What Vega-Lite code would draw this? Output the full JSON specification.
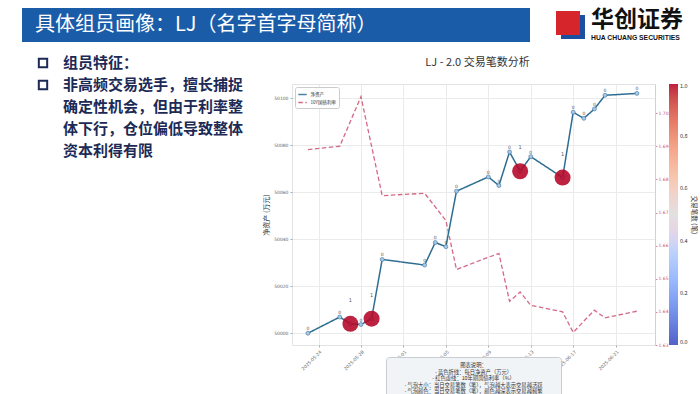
{
  "$schema": "https://vega.github.io/schema/vega-lite/v6.json",
  "background": "white",
  "padding": {"left": 22, "top": 8, "right": 0, "bottom": 0},
  "bounds": "flush",
  "spacing": 76,
  "config": {"font": "Noto Sans CJK SC", "view": {"stroke": null}},
  "resolve": {"legend": {"color": "independent", "strokeDash": "independent", "fill": "independent", "size": "independent"}},
  "vconcat": [
    {
      "bounds": "flush",
      "spacing": 25,
      "hconcat": [
        {
          "width": 508, "height": 34,
          "view": {"fill": "#1b5ca9", "stroke": null},
          "data": {"values": [{"t": "具体组员画像：LJ（名字首字母简称）"}]},
          "mark": {"type": "text", "align": "left", "baseline": "middle", "fontSize": 20, "color": "white", "font": "Noto Sans CJK SC"},
          "encoding": {
            "text": {"field": "t"},
            "x": {"datum": 13, "type": "quantitative", "scale": {"domain": [0, 508]}, "axis": null},
            "y": {"datum": 17, "type": "quantitative", "scale": {"domain": [0, 34]}, "axis": null}
          }
        },
        {
          "width": 135, "height": 34,
          "layer": [
            {
              "data": {"values": [{"part": "blue"}]},
              "mark": {"type": "point", "shape": "square", "filled": true, "color": "#1d4fa0", "size": 576, "opacity": 1},
              "encoding": {
                "x": {"datum": 18, "type": "quantitative", "scale": {"domain": [0, 135]}, "axis": null},
                "y": {"datum": 15, "type": "quantitative", "scale": {"domain": [0, 34]}, "axis": null}
              }
            },
            {
              "data": {"values": [{"part": "red"}]},
              "mark": {"type": "point", "shape": "square", "filled": true, "color": "#d7262b", "size": 576, "opacity": 1},
              "encoding": {
                "x": {"datum": 13, "type": "quantitative", "scale": {"domain": [0, 135]}, "axis": null},
                "y": {"datum": 19, "type": "quantitative", "scale": {"domain": [0, 34]}, "axis": null}
              }
            },
            {
              "data": {"values": [{"t": "华创证券"}]},
              "mark": {"type": "text", "align": "left", "baseline": "middle", "fontSize": 23, "fontWeight": "bold", "color": "#111"},
              "encoding": {
                "text": {"field": "t"},
                "x": {"datum": 36, "type": "quantitative", "scale": {"domain": [0, 135]}, "axis": null},
                "y": {"datum": 22.5, "type": "quantitative", "scale": {"domain": [0, 34]}, "axis": null}
              }
            },
            {
              "data": {"values": [{"t": "HUA CHUANG SECURITIES"}]},
              "mark": {"type": "text", "align": "left", "baseline": "middle", "fontSize": 6.8, "fontWeight": "bold", "color": "#111", "font": "Liberation Sans"},
              "encoding": {
                "text": {"field": "t"},
                "x": {"datum": 36, "type": "quantitative", "scale": {"domain": [0, 135]}, "axis": null},
                "y": {"datum": 4, "type": "quantitative", "scale": {"domain": [0, 34]}, "axis": null}
              }
            }
          ]
        }
      ]
    },
    {
      "bounds": "flush",
      "spacing": 30,
      "resolve": {"legend": {"color": "independent", "strokeDash": "independent", "fill": "independent", "size": "independent"}},
      "hconcat": [
        {
          "width": 240, "height": 260,
          "data": {"values": [
            {"line": 1, "kind": "bullet", "text": ""},
            {"line": 2, "kind": "bullet", "text": ""},
            {"line": 1, "kind": "text", "text": "组员特征："},
            {"line": 2, "kind": "text", "text": "非高频交易选手，擅长捕捉"},
            {"line": 3, "kind": "text", "text": "确定性机会，但由于利率整"},
            {"line": 4, "kind": "text", "text": "体下行，仓位偏低导致整体"},
            {"line": 5, "kind": "text", "text": "资本利得有限"}
          ]},
          "encoding": {
            "x": {"field": "kind", "type": "nominal", "scale": {"type": "point", "domain": ["bullet", "text"], "range": [21, 41], "padding": 0}, "axis": null},
            "y": {"field": "line", "type": "quantitative", "scale": {"domain": [1.9545, 13.7727], "reverse": true, "nice": false, "zero": false}, "axis": null}
          },
          "layer": [
            {
              "transform": [{"filter": "datum.kind === 'bullet'"}],
              "mark": {"type": "point", "shape": "square", "filled": false, "stroke": "#1c2a55", "strokeWidth": 2, "size": 70, "opacity": 1}
            },
            {
              "transform": [{"filter": "datum.kind === 'text'"}],
              "mark": {"type": "text", "align": "left", "baseline": "middle", "fontSize": 15, "fontWeight": "bold", "color": "#1c2a55"},
              "encoding": {"text": {"field": "text"}}
            }
          ]
        },
        {
          "bounds": "flush",
          "spacing": 12,
          "center": true,
          "resolve": {"legend": {"color": "independent", "strokeDash": "independent", "fill": "independent", "size": "independent"}},
          "vconcat": [
            {
              "width": 363, "height": 261,
              "view": {"stroke": "#e3e3e3"},
              "title": {"text": "LJ - 2.0 交易笔数分析", "fontSize": 11, "fontWeight": "normal", "color": "#333", "offset": 16, "dx": 4, "anchor": "middle"},
              "data": {"values": [
                {"date": "2025-05-23T00:00:00", "nav": 50000.0, "rate": 1.6890, "trades": 0},
                {"date": "2025-05-26T00:00:00", "nav": 50006.9, "rate": 1.6900, "trades": 0},
                {"date": "2025-05-27T00:00:00", "nav": 50004.0, "rate": 1.6975, "trades": 1},
                {"date": "2025-05-28T00:00:00", "nav": 50003.7, "rate": 1.7050, "trades": 0},
                {"date": "2025-05-29T00:00:00", "nav": 50006.2, "rate": 1.6900, "trades": 1},
                {"date": "2025-05-30T00:00:00", "nav": 50031.4, "rate": 1.6751, "trades": 0},
                {"date": "2025-06-03T00:00:00", "nav": 50029.0, "rate": 1.6758, "trades": 0},
                {"date": "2025-06-04T00:00:00", "nav": 50038.6, "rate": 1.6717, "trades": 0},
                {"date": "2025-06-05T00:00:00", "nav": 50036.8, "rate": 1.6676, "trades": 0},
                {"date": "2025-06-06T00:00:00", "nav": 50060.4, "rate": 1.6528, "trades": 0},
                {"date": "2025-06-09T00:00:00", "nav": 50066.5, "rate": 1.6565, "trades": 0},
                {"date": "2025-06-10T00:00:00", "nav": 50062.8, "rate": 1.6576, "trades": 0},
                {"date": "2025-06-11T00:00:00", "nav": 50077.1, "rate": 1.6432, "trades": 0},
                {"date": "2025-06-12T00:00:00", "nav": 50068.9, "rate": 1.6460, "trades": 1},
                {"date": "2025-06-13T00:00:00", "nav": 50075.1, "rate": 1.6420, "trades": 0},
                {"date": "2025-06-16T00:00:00", "nav": 50066.2, "rate": 1.6400, "trades": 1},
                {"date": "2025-06-17T00:00:00", "nav": 50094.0, "rate": 1.6338, "trades": 0},
                {"date": "2025-06-18T00:00:00", "nav": 50091.4, "rate": 1.6372, "trades": 0},
                {"date": "2025-06-19T00:00:00", "nav": 50095.4, "rate": 1.6405, "trades": 0},
                {"date": "2025-06-20T00:00:00", "nav": 50101.2, "rate": 1.6382, "trades": 0},
                {"date": "2025-06-23T00:00:00", "nav": 50102.0, "rate": 1.6402, "trades": 0}
              ]},
              "encoding": {
                "x": {
                  "field": "date", "type": "temporal",
                  "scale": {"domain": [{"year": 2025, "month": 5, "date": 21, "hours": 12}, {"year": 2025, "month": 6, "date": 24, "hours": 17}]},
                  "axis": {
                    "values": [
                      {"year": 2025, "month": 5, "date": 24}, {"year": 2025, "month": 5, "date": 28},
                      {"year": 2025, "month": 6, "date": 1}, {"year": 2025, "month": 6, "date": 5},
                      {"year": 2025, "month": 6, "date": 9}, {"year": 2025, "month": 6, "date": 13},
                      {"year": 2025, "month": 6, "date": 17}, {"year": 2025, "month": 6, "date": 21}
                    ],
                    "format": "%Y-%m-%d", "labelAngle": -45, "labelFontSize": 4.5, "labelColor": "#666", "labelFont": "DejaVu Sans",
                    "grid": true, "gridColor": "#ebebeb", "domain": false, "tickColor": "#aaa", "tickSize": 2, "labelPadding": 2, "title": null
                  }
                }
              },
              "layer": [
                {
                  "mark": {"type": "line", "strokeWidth": 1.3, "opacity": 0.85},
                  "encoding": {
                    "y": {
                      "field": "rate", "type": "quantitative",
                      "scale": {"domain": [1.63, 1.7088], "nice": false, "zero": false},
                      "axis": {"orient": "right", "values": [1.63, 1.64, 1.65, 1.66, 1.67, 1.68, 1.69, 1.70], "format": ".2f", "labelColor": "#c9506e", "labelFontSize": 4.5, "labelFont": "DejaVu Sans", "labelPadding": 1, "tickColor": "#d98a9e", "tickSize": 2, "domainColor": "#f0c4cf", "grid": false, "title": null}
                    },
                    "color": {
                      "datum": "10Y国债利率",
                      "scale": {"domain": ["净资产", "10Y国债利率"], "range": ["#2d6e92", "#cc4f70"]},
                      "legend": {"orient": "top-left", "title": null, "offset": 3, "fillColor": "white", "strokeColor": "#cccccc", "padding": 2.5, "cornerRadius": 2, "labelFontSize": 4.5, "labelColor": "#333", "symbolType": "stroke", "symbolStrokeWidth": 1.5, "symbolSize": 70, "rowPadding": 0, "labelOffset": 3}
                    },
                    "strokeDash": {
                      "datum": "10Y国债利率",
                      "scale": {"domain": ["净资产", "10Y国债利率"], "range": [[1, 0], [4.5, 2.5]]},
                      "legend": {"orient": "top-left", "title": null, "offset": 3, "fillColor": "white", "strokeColor": "#cccccc", "padding": 2.5, "cornerRadius": 2, "labelFontSize": 4.5, "labelColor": "#333", "symbolType": "stroke", "symbolStrokeWidth": 1.5, "symbolSize": 70, "rowPadding": 0, "labelOffset": 3}
                    }
                  }
                },
                {
                  "encoding": {
                    "y": {
                      "field": "nav", "type": "quantitative",
                      "scale": {"domain": [49995, 50106], "nice": false, "zero": false},
                      "axis": {"values": [50000, 50020, 50040, 50060, 50080, 50100], "format": "d", "labelFontSize": 4.5, "labelColor": "#666", "labelFont": "DejaVu Sans", "grid": true, "gridColor": "#ebebeb", "domain": false, "tickColor": "#aaa", "tickSize": 2, "title": "净资产 (万元)", "titleFontSize": 7, "titleFontWeight": "normal", "titleColor": "#333", "titlePadding": 4}
                    }
                  },
                  "layer": [
                    {
                      "mark": {"type": "line", "strokeWidth": 1.5},
                      "encoding": {
                        "color": {"datum": "净资产"},
                        "strokeDash": {"datum": "净资产"}
                      }
                    },
                    {
                      "mark": {"type": "point", "filled": true, "fill": "#a9c6e3", "stroke": "#3a77a3", "strokeWidth": 0.6, "size": 16, "opacity": 1}
                    },
                    {
                      "mark": {"type": "point", "filled": true, "opacity": 0.88, "strokeWidth": 0},
                      "encoding": {
                        "size": {"field": "trades", "type": "quantitative", "scale": {"domain": [0, 1], "range": [0, 256]}, "legend": null},
                        "fill": {
                          "field": "trades", "type": "quantitative",
                          "scale": {"domain": [0, 0.125, 0.25, 0.375, 0.5, 0.625, 0.75, 0.875, 1], "range": ["#3b4cc0", "#6282ea", "#8db0fe", "#b8d0f9", "#dddcdc", "#f5c4ac", "#f49a7b", "#de604d", "#b40426"]},
                          "legend": {"orient": "right", "title": "交易笔数 (笔)", "titleOrient": "right", "titlePadding": 3, "labelOffset": 2, "gradientLength": 261, "gradientThickness": 9, "values": [0, 0.2, 0.4, 0.6, 0.8, 1], "format": ".1f", "labelFontSize": 5.5, "labelColor": "#333", "titleFontSize": 6.5, "titleFontWeight": "normal", "titleColor": "#333", "offset": 0, "padding": 0, "direction": "vertical"}
                        }
                      }
                    },
                    {
                      "transform": [{"filter": "datum.trades == 0"}],
                      "mark": {"type": "text", "dy": -4, "fontSize": 4.5, "color": "#555", "font": "DejaVu Sans"},
                      "encoding": {"text": {"field": "trades", "type": "quantitative"}}
                    },
                    {
                      "transform": [{"filter": "datum.trades > 0"}],
                      "mark": {"type": "text", "dy": -24, "fontSize": 5, "color": "#555", "font": "DejaVu Sans"},
                      "encoding": {"text": {"field": "trades", "type": "quantitative"}}
                    }
                  ]
                }
              ],
              "resolve": {"scale": {"y": "independent"}}
            },
            {
              "width": 175, "height": 45,
              "view": {"fill": "#f1f4f7", "stroke": "#c9cdd3", "cornerRadius": 3},
              "data": {"values": [
                {"line": 0, "text": "图表说明："},
                {"line": 1, "text": "- 蓝色折线：每日净资产（万元）"},
                {"line": 2, "text": "- 红色虚线：10年期国债利率（%）"},
                {"line": 3, "text": "- 气泡大小：当日交易笔数（笔），气泡越大表示交易越活跃"},
                {"line": 4, "text": "- 气泡颜色：当日交易笔数（笔），颜色越深表示交易越频繁"}
              ]},
              "mark": {"type": "text", "align": "center", "baseline": "middle", "fontSize": 5.3, "color": "#333"},
              "encoding": {
                "x": {"datum": 0.5, "type": "quantitative", "scale": {"domain": [0, 1]}, "axis": null},
                "y": {"field": "line", "type": "quantitative", "scale": {"domain": [-1.23, 5.69], "reverse": true, "nice": false, "zero": false}, "axis": null},
                "text": {"field": "text"}
              }
            }
          ]
        }
      ]
    }
  ]
}
